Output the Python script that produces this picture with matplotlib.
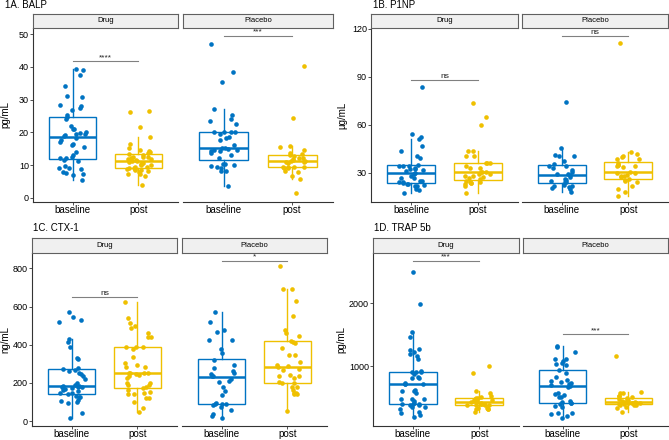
import numpy as np
import matplotlib.pyplot as plt

plt.rcParams['font.family'] = ['Liberation Sans', 'DejaVu Sans']

BLUE = '#0073C2'
YELLOW = '#EFC000'

groups = ['baseline', 'post']
facets = ['Drug', 'Placebo']

# 1A BALP (pg/mL)
balp_drug_base = [39.4, 39.1, 37.6, 34.3, 31.2, 30.9, 28.4, 28.0, 27.4, 26.8, 25.4, 24.6, 24.2,
                  21.8, 21.0, 20.9, 20.0, 19.7, 19.5, 19.4, 19.3, 18.8, 18.3, 17.7, 16.9, 16.4,
                  16.0, 15.4, 13.9, 13.2, 12.6, 12.1, 12.0, 11.6, 11.2, 9.8, 9.1, 9.1, 8.9, 7.9,
                  7.5, 7.3, 7.0, 5.3]
balp_drug_post = [3.9, 6.8, 7.3, 7.4, 7.9, 8.1, 8.4, 8.6, 8.8, 8.9, 9.0, 9.1, 9.3, 9.5, 9.9, 9.9,
                  10.2, 10.5, 10.7, 10.8, 11.1, 11.3, 11.4, 11.7, 11.9, 12.2, 12.4, 12.4, 12.6,
                  13.0, 13.4, 13.8, 14.0, 14.4, 14.6, 15.2, 16.4, 18.6, 21.6, 26.2, 26.6]
balp_plac_base = [3.5, 8.1, 8.3, 9.1, 9.4, 9.8, 10.1, 10.2, 10.4, 12.0, 13.1, 13.7, 14.2, 14.4,
                  14.6, 14.7, 15.0, 15.2, 15.3, 16.2, 17.6, 18.3, 18.7, 19.5, 20.0, 20.1, 20.2,
                  20.2, 22.7, 23.6, 24.2, 25.3, 27.2, 35.5, 38.3, 47.0]
balp_plac_post = [1.3, 5.8, 6.8, 7.9, 8.1, 9.1, 9.1, 9.3, 9.3, 9.5, 9.5, 10.7, 10.8, 11.0, 11.2,
                  11.3, 11.4, 11.7, 12.0, 12.2, 12.7, 13.2, 13.4, 13.8, 14.6, 15.5, 15.7, 24.5, 40.4]

# 1B P1NP (ug/mL)
p1np_drug_base = [17.0, 18.9, 19.7, 21.4, 21.8, 22.2, 22.9, 22.9, 23.5, 23.9, 23.9, 24.8, 25.0,
                  26.4, 26.9, 28.1, 29.0, 29.6, 31.0, 31.7, 32.3, 32.3, 33.0, 34.0, 34.4, 34.4,
                  35.0, 38.8, 40.1, 43.2, 46.8, 50.8, 52.2, 54.1, 83.7]
p1np_drug_post = [17.0, 21.8, 22.9, 23.5, 23.5, 24.3, 24.3, 25.0, 26.0, 26.6, 27.1, 27.7, 27.7,
                  29.0, 29.0, 30.2, 30.2, 30.2, 32.7, 33.1, 34.4, 35.9, 35.9, 36.1, 40.1, 40.1,
                  43.4, 43.6, 59.8, 64.8, 73.8]
p1np_plac_base = [18.1, 19.7, 20.1, 20.8, 21.4, 21.4, 22.2, 23.9, 23.9, 25.0, 25.4, 26.0, 28.5,
                  27.1, 29.0, 29.4, 30.2, 31.3, 32.7, 33.8, 34.4, 35.5, 37.3, 40.1, 40.1, 41.1,
                  45.5, 74.0]
p1np_plac_post = [15.5, 17.6, 19.7, 21.8, 23.9, 25.0, 25.2, 26.0, 27.1, 28.1, 28.1, 28.5, 29.5,
                  30.0, 30.2, 33.6, 33.8, 34.0, 34.8, 35.0, 35.7, 38.6, 38.6, 39.6, 40.1, 41.5,
                  43.0, 110.9]

# 1C CTX-1 (ng/mL)
ctx_drug_base = [16, 42, 94, 103, 108, 112, 125, 129, 134, 141, 146, 150, 160, 164, 167, 175, 178,
                 180, 181, 185, 186, 190, 199, 220, 234, 245, 250, 262, 270, 272, 276, 328, 331,
                 387, 413, 432, 521, 532, 547, 572]
ctx_drug_post = [47, 71, 98, 120, 120, 143, 143, 146, 155, 164, 172, 181, 190, 190, 199, 202, 225,
                 234, 242, 247, 251, 251, 254, 254, 282, 286, 295, 303, 335, 380, 388, 390, 390,
                 439, 439, 460, 486, 498, 516, 539, 624]
ctx_plac_base = [19, 28, 38, 59, 77, 84, 88, 89, 91, 95, 138, 160, 181, 207, 213, 223, 237, 237,
                 246, 254, 263, 277, 295, 318, 356, 380, 425, 425, 469, 478, 521, 572]
ctx_plac_post = [51, 143, 143, 150, 150, 164, 181, 181, 199, 202, 207, 225, 237, 237, 242, 268,
                 275, 286, 289, 295, 312, 347, 347, 385, 408, 417, 422, 448, 464, 478, 553, 631,
                 690, 694, 812]

# 1D TRAP 5b (pg/mL)
trap_drug_base = [185, 222, 249, 270, 312, 344, 355, 381, 381, 395, 397, 400, 418, 450, 471, 471,
                  482, 566, 609, 609, 619, 714, 714, 714, 725, 804, 815, 831, 880, 905, 905, 905,
                  920, 1116, 1159, 1190, 1222, 1254, 1265, 1465, 1540, 1984, 2492]
trap_drug_post = [275, 312, 323, 323, 328, 333, 375, 376, 378, 380, 392, 397, 397, 397, 418, 430,
                  429, 450, 455, 460, 460, 471, 492, 497, 513, 529, 566, 609, 884, 1005]
trap_plac_base = [175, 212, 238, 249, 249, 355, 365, 397, 407, 418, 425, 450, 503, 513, 534, 550,
                  577, 672, 680, 698, 714, 735, 751, 767, 778, 831, 884, 937, 1011, 1032, 1053,
                  1085, 1106, 1111, 1227, 1307, 1317]
trap_plac_post = [265, 328, 355, 381, 381, 385, 397, 397, 407, 407, 407, 410, 415, 420, 434, 434,
                  444, 460, 460, 471, 487, 503, 524, 524, 577, 577, 593, 1159]

W, H = 669, 440
fig = plt.figure(figsize=(W / 100, H / 100), dpi=100)
fig.patch.set_facecolor('white')

rng = np.random.default_rng(7)  # only for horizontal jitter, like geom_jitter


def px_axes(x0, y0, x1, y1):
    return fig.add_axes([x0 / W, 1 - y1 / H, (x1 - x0) / W, (y1 - y0) / H])


def draw_facet(ax, base, post, ylim, yticks, show_y, sig, sig_y):
    for i, (vals, col) in enumerate([(base, BLUE), (post, YELLOW)]):
        bp = ax.boxplot(vals, positions=[i], widths=0.72, showfliers=False,
                        patch_artist=True, showcaps=False)
        for b in bp['boxes']:
            b.set(facecolor='white', edgecolor=col, linewidth=1.0, zorder=1)
        for w in bp['whiskers']:
            w.set(color=col, linewidth=1.0)
        for m in bp['medians']:
            m.set(color=col, linewidth=1.8)
        xj = i + rng.uniform(-0.2, 0.2, len(vals))
        ax.scatter(xj, vals, s=11, color=col, linewidths=0, zorder=3)
    ax.plot([0, 1], [sig_y, sig_y], color='#808080', lw=0.8)
    ax.text(0.5, sig_y, sig, ha='center', va='bottom', fontsize=6, color='#222222')
    ax.set_xlim(-0.6, 1.6)
    ax.set_ylim(*ylim)
    ax.set_xticks([0, 1])
    ax.set_xticklabels(groups, fontsize=7)
    for s in ['top', 'right']:
        ax.spines[s].set_visible(False)
    ax.spines['bottom'].set(color='#333333', linewidth=0.8)
    ax.tick_params(axis='x', length=2, width=0.6, colors='#333333', labelcolor='black', pad=0.5)
    if show_y:
        ax.spines['left'].set(color='#333333', linewidth=0.8)
        ax.set_yticks(yticks)
        ax.tick_params(axis='y', length=2, width=0.6, colors='#333333', labelsize=6.5,
                       labelcolor='black', pad=1)
    else:
        ax.spines['left'].set_visible(False)
        ax.set_yticks([])


def draw_strip(x0, y0, x1, y1, label):
    sa = px_axes(x0, y0, x1, y1)
    sa.set_facecolor('#F0F0F0')
    for s in sa.spines.values():
        s.set(color='#606060', linewidth=0.8)
    sa.set_xticks([])
    sa.set_yticks([])
    sa.text(0.5, 0.5, label, ha='center', va='center', fontsize=5.5, transform=sa.transAxes)


panels = [
    # title, tx, ty, ylabel, lx, facet x ranges, strip top, axes top, axes bottom, data, ylim, yticks, sig
    ('1A. BALP', 5, 0, 'pg/mL', 5, [(33, 178), (183, 333)], 14, 28, 202,
     [(balp_drug_base, balp_drug_post), (balp_plac_base, balp_plac_post)],
     (-1.3, 51.9), [0, 10, 20, 30, 40, 50], [('****', 41.8), ('***', 49.5)]),
    ('1B. P1NP', 373, 0, 'µg/mL', 342, [(371, 518), (522, 668)], 14, 28, 202,
     [(p1np_drug_base, p1np_drug_post), (p1np_plac_base, p1np_plac_post)],
     (11.6, 120.4), [30, 60, 90, 120], [('ns', 87.9), ('ns', 115.5)]),
    ('1C. CTX-1', 33, 223, 'ng/mL', 5, [(32, 177), (182, 327)], 238, 253, 426,
     [(ctx_drug_base, ctx_drug_post), (ctx_plac_base, ctx_plac_post)],
     (-25, 880), [0, 200, 400, 600, 800], [('ns', 652), ('*', 840)]),
    ('1D. TRAP 5b', 374, 223, 'pg/mL', 341, [(373, 519), (523, 668)], 238, 253, 426,
     [(trap_drug_base, trap_drug_post), (trap_plac_base, trap_plac_post)],
     (48, 2794), [1000, 2000], [('***', 2672), ('***', 1502)]),
]

for (title, tx, ty, ylab, lx, xr, stop, atop, abot, data, ylim, yticks, sigs) in panels:
    fig.text(tx / W, 1 - ty / H, title, fontsize=7, ha='left', va='top')
    fig.text(lx / W, 1 - (atop + abot) / 2 / H, ylab, fontsize=7, rotation=90,
             ha='center', va='center')
    for k, ((x0, x1), (base, post), (sig, sy)) in enumerate(zip(xr, data, sigs)):
        ax = px_axes(x0, atop, x1, abot)
        draw_facet(ax, base, post, ylim, yticks, k == 0, sig, sy)
        draw_strip(x0, stop, x1, atop, facets[k])

fig.savefig('out.png', dpi=100)
